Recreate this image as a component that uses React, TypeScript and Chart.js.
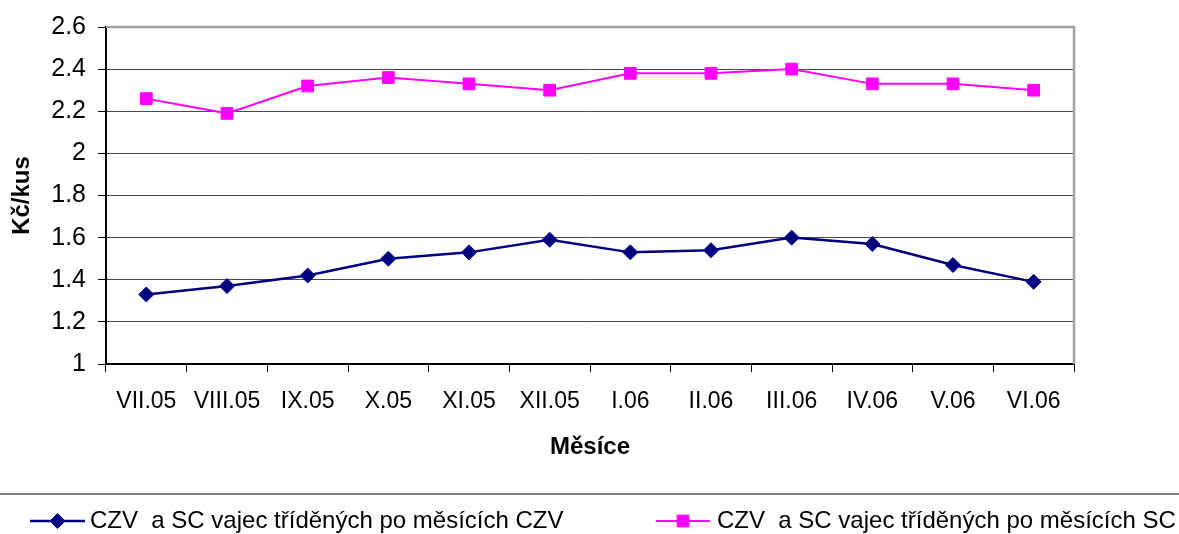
import React, { useEffect, useRef } from 'react';
import { Chart, registerables } from 'chart.js';
import { drawPoint } from 'chart.js/helpers';

Chart.register(...registerables);

const categories = ['VII.05', 'VIII.05', 'IX.05', 'X.05', 'XI.05', 'XII.05', 'I.06', 'II.06', 'III.06', 'IV.06', 'V.06', 'VI.06'];
const czvValues = [1.33, 1.37, 1.42, 1.5, 1.53, 1.59, 1.53, 1.54, 1.6, 1.57, 1.47, 1.39];
const scValues = [2.26, 2.19, 2.32, 2.36, 2.33, 2.3, 2.38, 2.38, 2.4, 2.33, 2.33, 2.3];
const seriesLabels = ['CZV  a SC vajec tříděných po měsících CZV', 'CZV  a SC vajec tříděných po měsících SC'];
const yMin = 1;
const yMax = 2.6;
const yStep = 0.2;
const xTitle = 'Měsíce';
const yTitle = 'Kč/kus';

const FONT = "'Liberation Sans', Arial, sans-serif";

const plotFrame = {
  id: 'plotFrame',
  beforeDatasetsDraw(chart: any) {
    const { ctx, chartArea } = chart;
    const { left, right, top, bottom } = chartArea;
    ctx.save();
    ctx.strokeStyle = '#a0a0a0';
    ctx.lineWidth = 2.5;
    ctx.beginPath();
    ctx.moveTo(left, top);
    ctx.lineTo(right, top);
    ctx.lineTo(right, bottom);
    ctx.stroke();
    ctx.restore();
  },
};

const legendLayout = [
  { x1: 30, x2: 85, tx: 90 },
  { x1: 656, x2: 710, tx: 717 },
];

const customLegend = {
  id: 'customLegend',
  afterDraw(chart: any) {
    const { ctx } = chart;
    ctx.save();
    ctx.strokeStyle = '#555';
    ctx.lineWidth = 1.5;
    ctx.beginPath();
    ctx.moveTo(0, 494);
    ctx.lineTo(chart.width, 494);
    ctx.stroke();
    const y = 521;
    chart.data.datasets.forEach((ds: any, i: number) => {
      const lay = legendLayout[i];
      if (!lay) return;
      ctx.strokeStyle = ds.borderColor;
      ctx.lineWidth = ds.borderWidth;
      ctx.beginPath();
      ctx.moveTo(lay.x1, y);
      ctx.lineTo(lay.x2, y);
      ctx.stroke();
      ctx.fillStyle = ds.pointBackgroundColor;
      ctx.strokeStyle = ds.pointBorderColor;
      ctx.lineWidth = 1;
      drawPoint(ctx, { pointStyle: ds.pointStyle, radius: ds.pointRadius, rotation: 0, borderWidth: 1 } as any, (lay.x1 + lay.x2) / 2, y);
      ctx.fillStyle = '#000';
      ctx.font = `24px ${FONT}`;
      ctx.textAlign = 'left';
      ctx.textBaseline = 'middle';
      ctx.fillText(ds.label, lay.tx, y);
    });
    ctx.restore();
  },
};

export default function App() {
  const canvasRef = useRef<HTMLCanvasElement | null>(null);

  useEffect(() => {
    document.body.style.margin = '0';
    const canvas = canvasRef.current;
    if (!canvas) return;
    const chart = new Chart(canvas, {
      type: 'line',
      data: {
        labels: categories,
        datasets: [
          {
            label: seriesLabels[0],
            data: czvValues,
            borderColor: '#000080',
            backgroundColor: '#000080',
            pointBackgroundColor: '#000080',
            pointBorderColor: '#000080',
            borderWidth: 2.5,
            pointStyle: 'rectRot',
            pointRadius: 7.5,
            pointBorderWidth: 1,
            tension: 0,
          },
          {
            label: seriesLabels[1],
            data: scValues,
            borderColor: '#FF00FF',
            backgroundColor: '#FF00FF',
            pointBackgroundColor: '#FF00FF',
            pointBorderColor: '#FF00FF',
            borderWidth: 2,
            pointStyle: 'rect',
            pointRadius: 8.3,
            pointBorderWidth: 1,
            tension: 0,
          },
        ],
      },
      options: {
        responsive: false,
        animation: false,
        devicePixelRatio: 1,
        layout: { padding: { left: 0, right: 105, top: 24, bottom: 72 } },
        plugins: {
          legend: { display: false },
          tooltip: { enabled: false },
        },
        scales: {
          x: {
            type: 'category',
            offset: true,
            afterFit(scale: any) {
              scale.height = 98;
            },
            grid: {
              offset: true,
              drawOnChartArea: false,
              drawTicks: true,
              tickLength: 8,
              color: '#000',
            },
            border: { color: '#000', width: 2 },
            ticks: {
              color: '#000',
              font: { family: FONT, size: 23 },
              padding: 16,
              maxRotation: 0,
              autoSkip: false,
            },
            title: {
              display: true,
              text: xTitle,
              color: '#000',
              font: { family: FONT, size: 24, weight: 'bold' },
              padding: { top: 0, bottom: 0 },
            },
          },
          y: {
            min: yMin,
            max: yMax,
            afterFit(scale: any) {
              scale.width = 106;
            },
            grid: {
              color: '#4a4a4a',
              lineWidth: 1,
              tickColor: '#000',
              tickLength: 8,
            },
            border: { color: '#000', width: 2 },
            ticks: {
              stepSize: yStep,
              color: '#000',
              font: { family: FONT, size: 25 },
              padding: 12,
              callback: (v: any) => String(Math.round(Number(v) * 10) / 10),
            },
            title: {
              display: true,
              text: yTitle,
              color: '#000',
              font: { family: FONT, size: 24, weight: 'bold' },
              padding: { top: 8, bottom: 0 },
            },
          },
        },
      },
      plugins: [plotFrame, customLegend],
    } as any);
    return () => chart.destroy();
  }, []);

  return (
    <div style={{ position: 'absolute', left: 0, top: 0, width: 1179, height: 534, background: '#fff' }}>
      <canvas ref={canvasRef} width={1179} height={534} style={{ display: 'block' }} />
    </div>
  );
}
